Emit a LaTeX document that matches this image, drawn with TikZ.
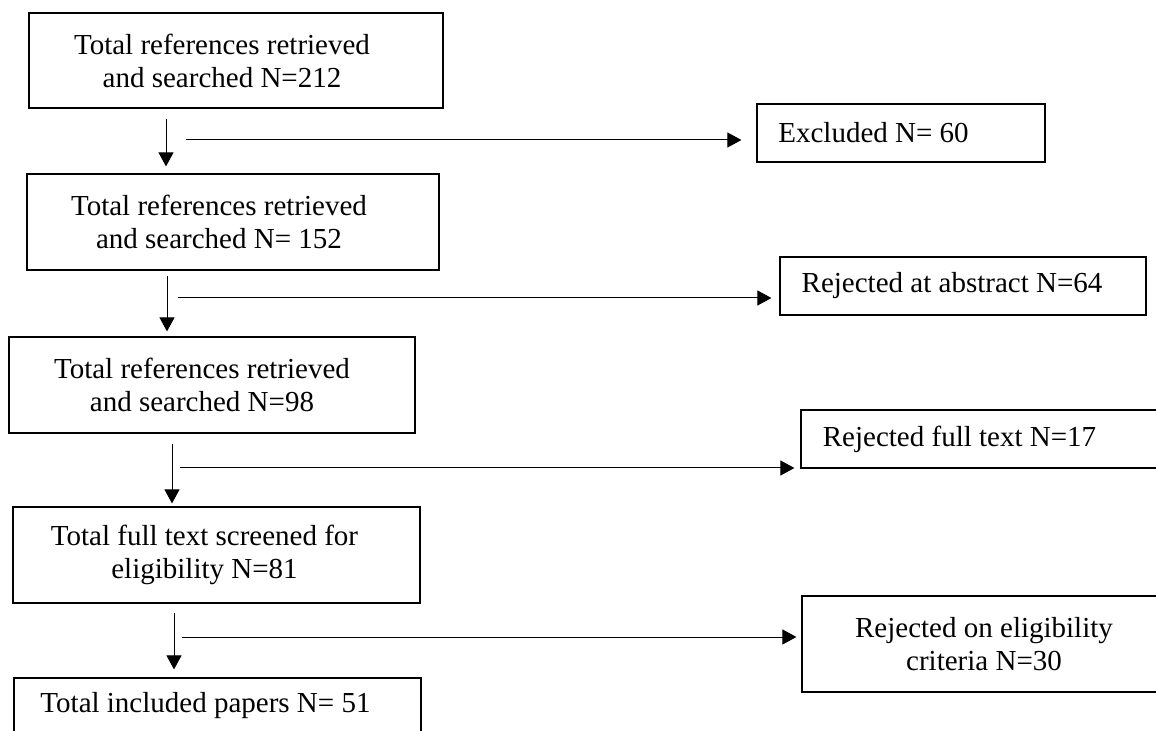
\documentclass[tikz,border=0pt]{standalone}
\usepackage{fontspec}
\setmainfont{Liberation Serif}
\usetikzlibrary{arrows.meta}

\begin{document}
\begin{tikzpicture}[
  x=0.5pt, y=-0.5pt,
  box/.style={draw, line width=0.6pt, inner sep=0pt},
  txt/.style={font=\fontsize{14.5pt}{16.5pt}\selectfont, align=center, inner sep=0pt},
  arrow/.style={-{Triangle[length=7pt,width=7.5pt]}, line width=0.5pt}
]
  \useasboundingbox (0,0) rectangle (1156,731);

  \node[box, minimum width=207pt, minimum height=47.5pt,
        label={[txt, xshift=-7pt]center:Total references retrieved\\and searched N=212}] (ret1) at (236,60.5) {};
  \node[box, minimum width=206pt, minimum height=48pt,
        label={[txt, xshift=-7pt]center:Total references retrieved\\and searched N= 152}] (ret2) at (233,222) {};
  \node[box, minimum width=203pt, minimum height=48pt,
        label={[txt, xshift=-5pt]center:Total references retrieved\\and searched N=98}] (ret3) at (212,385) {};
  \node[box, minimum width=203.5pt, minimum height=48pt,
        label={[txt, xshift=-6pt]center:Total full text screened for\\eligibility N=81}] (elig) at (216.5,555) {};
  \node[box, minimum width=203.5pt, minimum height=28pt,
        label={[txt, xshift=-6pt]center:Total included papers N= 51}] (incl) at (217.5,706) {};

  \node[box, minimum width=144pt, minimum height=29pt,
        label={[txt, xshift=-13.75pt]center:Excluded N= 60}] (excl) at (901,133) {};
  \node[box, minimum width=183pt, minimum height=29pt,
        label={[txt, xshift=-5.5pt]center:Rejected at abstract N=64}] (rejab) at (963,286) {};
  \node[box, minimum width=184.5pt, minimum height=29pt,
        label={[txt, xshift=-13pt]center:Rejected full text N=17}] (rejft) at (985.5,439) {};
  \node[box, minimum width=182pt, minimum height=48pt,
        label={[txt]center:Rejected on eligibility\\criteria N=30}] (rejel) at (984,644) {};

  \coordinate (d1) at (166,119);
  \coordinate (d2) at (167,276);
  \coordinate (d3) at (172,444);
  \coordinate (d4) at (174,613);
  \coordinate (s1) at (186,140);
  \coordinate (s2) at (178,298);
  \coordinate (s3) at (180,468);
  \coordinate (s4) at (182,637);

  \draw[arrow, shorten >=3.5pt] (d1) -- (d1 |- ret2.north);
  \draw[arrow, shorten >=2.5pt] (d2) -- (d2 |- ret3.north);
  \draw[arrow, shorten >=1.5pt] (d3) -- (d3 |- elig.north);
  \draw[arrow, shorten >=4pt]   (d4) -- (d4 |- incl.north);

  \draw[arrow, shorten >=7.5pt] (s1) -- (s1 -| excl.west);
  \draw[arrow, shorten >=4pt]   (s2) -- (s2 -| rejab.west);
  \draw[arrow, shorten >=3pt]   (s3) -- (s3 -| rejft.west);
  \draw[arrow, shorten >=2.5pt] (s4) -- (s4 -| rejel.west);
\end{tikzpicture}
\end{document}
